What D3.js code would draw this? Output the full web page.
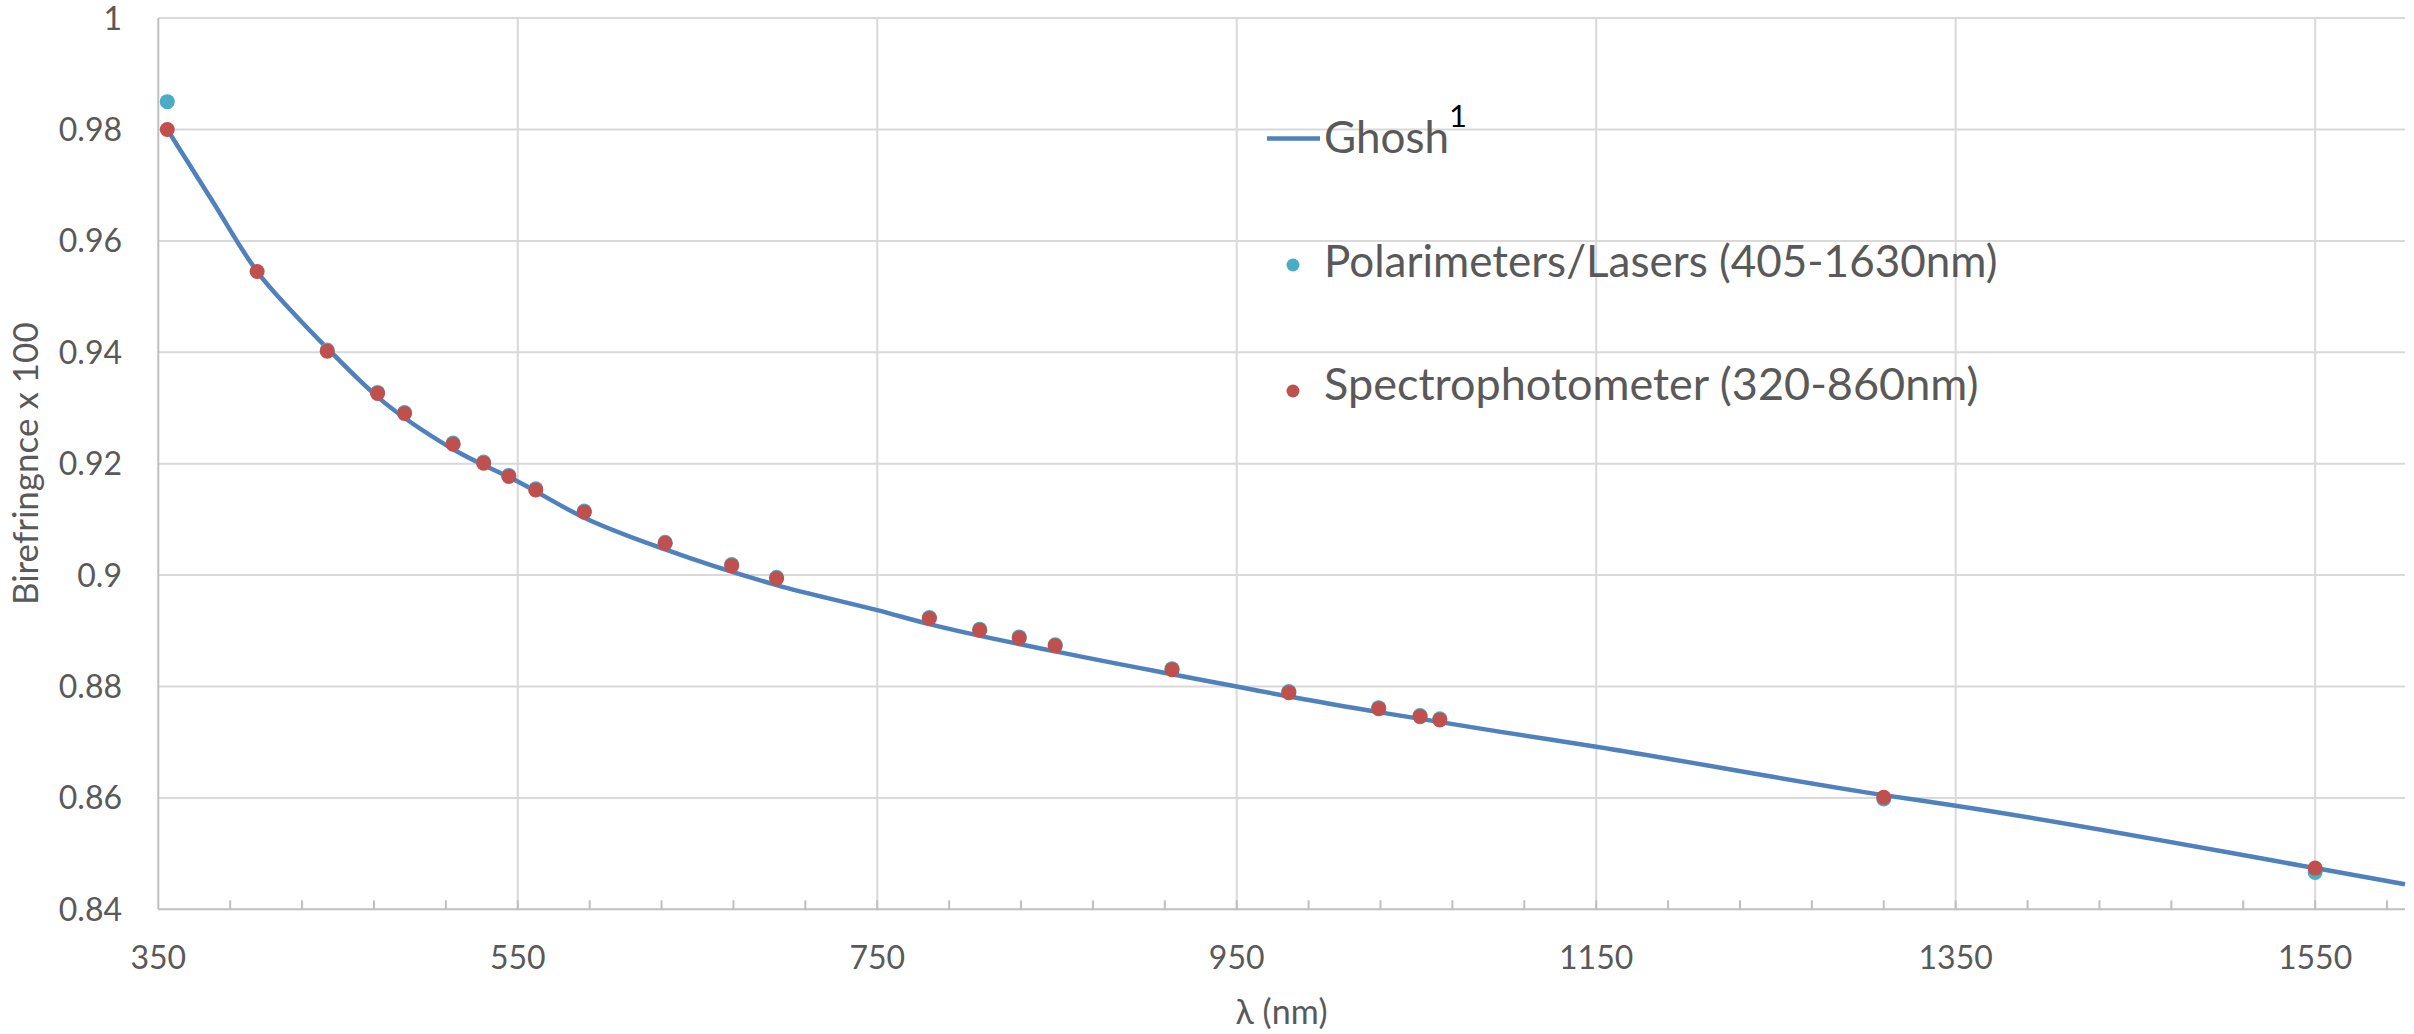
<!DOCTYPE html>
<html>
<head>
<meta charset="utf-8">
<script src="https://cdn.jsdelivr.net/npm/d3@7/dist/d3.min.js"></script>
<style>
  html, body { margin: 0; padding: 0; background: #ffffff; }
  svg { display: block; }
  text { font-family: Lato, "Open Sans", "Liberation Sans", sans-serif; fill: #595959; }
</style>
</head>
<body>
<svg id="chart" width="2414" height="1034"></svg>
<script>
// Ghosh dispersion curve for quartz birefringence (x 100), sampled along wavelength
const ghoshWavelength = [355, 380, 405, 425, 445, 472, 514, 550, 587, 632, 694, 750, 779, 849, 914, 950, 979, 1029, 1096, 1150, 1310, 1350, 1550, 1600];
const ghoshValue      = [0.9800, 0.9672, 0.9545, 0.9471, 0.9404, 0.9320, 0.9226, 0.9168, 0.9103, 0.9046, 0.8982, 0.8937, 0.8912, 0.8863, 0.8822, 0.8800, 0.8782, 0.8754, 0.8719, 0.8692, 0.8605, 0.8586, 0.8474, 0.8445];

// Polarimeter / laser measurements
const polarWavelength = [355, 444, 472, 487, 514, 531, 545, 560, 587, 632, 669, 694, 779, 807, 829, 849, 914, 979, 1029, 1052, 1063, 1310, 1550];
const polarValue      = [0.9850, 0.9404, 0.9328, 0.9292, 0.9237, 0.9203, 0.9179, 0.9155, 0.9115, 0.9059, 0.9019, 0.8996, 0.8924, 0.8903, 0.8889, 0.8875, 0.8832, 0.8791, 0.8762, 0.8748, 0.8742, 0.8598, 0.8466];

// Spectrophotometer measurements
const spectroWavelength = [355, 405, 444, 472, 487, 514, 531, 545, 560, 587, 632, 669, 694, 779, 807, 829, 849, 914, 979, 1029, 1052, 1063, 1310, 1550];
const spectroValue      = [0.9800, 0.9545, 0.9402, 0.9326, 0.9290, 0.9235, 0.9201, 0.9177, 0.9153, 0.9113, 0.9057, 0.9017, 0.8994, 0.8922, 0.8901, 0.8887, 0.8873, 0.8830, 0.8789, 0.8760, 0.8746, 0.8740, 0.8601, 0.8474];

// Axis ticks
const xTickValues = [350, 550, 750, 950, 1150, 1350, 1550];
const xTickLabels = ["350", "550", "750", "950", "1150", "1350", "1550"];
const xMinorTicks = d3.range(390, 1600, 40);
const yTickValues = [0.84, 0.86, 0.88, 0.90, 0.92, 0.94, 0.96, 0.98, 1.00];
const yTickLabels = ["0.84", "0.86", "0.88", "0.9", "0.92", "0.94", "0.96", "0.98", "1"];

const seriesNames = ["Ghosh", "Polarimeters/Lasers (405-1630nm)", "Spectrophotometer (320-860nm)"];
const colors = { ghosh: "#4F81BD", polar: "#4BACC6", spectro: "#C0504D" };

const svg = d3.select("#chart");
const plot = { left: 158.3, right: 2405, top: 18.1, bottom: 909.3 };

const x = d3.scaleLinear().domain([350, 1600]).range([plot.left, plot.right]);
const y = d3.scaleLinear().domain([0.84, 1.0]).range([plot.bottom, plot.top]);

// Horizontal gridlines
svg.append("g")
  .selectAll("line")
  .data(yTickValues.slice(1))
  .join("line")
  .attr("x1", plot.left).attr("x2", plot.right)
  .attr("y1", d => y(d)).attr("y2", d => y(d))
  .attr("stroke", "#D9D9D9").attr("stroke-width", 2);

// Vertical gridlines
svg.append("g")
  .selectAll("line")
  .data(xTickValues.slice(1))
  .join("line")
  .attr("x1", d => x(d)).attr("x2", d => x(d))
  .attr("y1", plot.top).attr("y2", plot.bottom)
  .attr("stroke", "#D9D9D9").attr("stroke-width", 2);

// Minor tick marks on the wavelength axis (pointing into the plot)
svg.append("g")
  .selectAll("line")
  .data(xMinorTicks)
  .join("line")
  .attr("x1", d => x(d)).attr("x2", d => x(d))
  .attr("y1", plot.bottom).attr("y2", plot.bottom - 9)
  .attr("stroke", "#BFBFBF").attr("stroke-width", 2);

// Axis lines
svg.append("line")
  .attr("x1", plot.left).attr("x2", plot.left)
  .attr("y1", plot.top).attr("y2", plot.bottom)
  .attr("stroke", "#BFBFBF").attr("stroke-width", 2);
svg.append("line")
  .attr("x1", plot.left).attr("x2", plot.right)
  .attr("y1", plot.bottom).attr("y2", plot.bottom)
  .attr("stroke", "#BFBFBF").attr("stroke-width", 2);

// Tick labels
svg.append("g")
  .selectAll("text")
  .data(yTickValues)
  .join("text")
  .attr("x", 122)
  .attr("y", d => y(d))
  .attr("dy", "0.36em")
  .attr("text-anchor", "end")
  .attr("font-size", 32)
  .text((d, i) => yTickLabels[i]);

svg.append("g")
  .selectAll("text")
  .data(xTickValues)
  .join("text")
  .attr("x", d => x(d))
  .attr("y", 969)
  .attr("text-anchor", "middle")
  .attr("font-size", 32)
  .text((d, i) => xTickLabels[i]);

// Axis titles
svg.append("text")
  .attr("x", (plot.left + plot.right) / 2)
  .attr("y", 1024)
  .attr("text-anchor", "middle")
  .attr("font-size", 34)
  .text("λ (nm)");

svg.append("text")
  .attr("transform", `translate(38, ${(plot.top + plot.bottom) / 2}) rotate(-90)`)
  .attr("text-anchor", "middle")
  .attr("font-size", 35)
  .text("Birefringnce x 100");

// Ghosh curve
const ghosh = ghoshWavelength.map((w, i) => [w, ghoshValue[i]]);
svg.append("path")
  .datum(ghosh)
  .attr("fill", "none")
  .attr("stroke", colors.ghosh)
  .attr("stroke-width", 4.5)
  .attr("stroke-linejoin", "round")
  .attr("d", d3.line().x(d => x(d[0])).y(d => y(d[1])).curve(d3.curveMonotoneX));

// Measured points
const polar = polarWavelength.map((w, i) => [w, polarValue[i]]);
svg.append("g")
  .selectAll("circle")
  .data(polar)
  .join("circle")
  .attr("cx", d => x(d[0])).attr("cy", d => y(d[1]))
  .attr("r", 7.5)
  .attr("fill", colors.polar);

const spectro = spectroWavelength.map((w, i) => [w, spectroValue[i]]);
svg.append("g")
  .selectAll("circle")
  .data(spectro)
  .join("circle")
  .attr("cx", d => x(d[0])).attr("cy", d => y(d[1]))
  .attr("r", 7.5)
  .attr("fill", colors.spectro);

// Legend
const legend = svg.append("g").attr("font-size", 44);
legend.append("line")
  .attr("x1", 1267).attr("x2", 1320)
  .attr("y1", 138.5).attr("y2", 138.5)
  .attr("stroke", colors.ghosh).attr("stroke-width", 4.5);
const g1 = legend.append("text").attr("x", 1324).attr("y", 153);
g1.append("tspan").text(seriesNames[0]);
g1.append("tspan")
  .attr("dy", -26)
  .attr("font-size", 31)
  .style("fill", "#000000")
  .text("1");

legend.append("circle").attr("cx", 1293).attr("cy", 265).attr("r", 6.5).attr("fill", colors.polar);
legend.append("text").attr("x", 1324).attr("y", 277).text(seriesNames[1]);

legend.append("circle").attr("cx", 1293).attr("cy", 391).attr("r", 6.5).attr("fill", colors.spectro);
legend.append("text").attr("x", 1324).attr("y", 400).attr("font-size", 45).text(seriesNames[2]);
</script>
</body>
</html>
